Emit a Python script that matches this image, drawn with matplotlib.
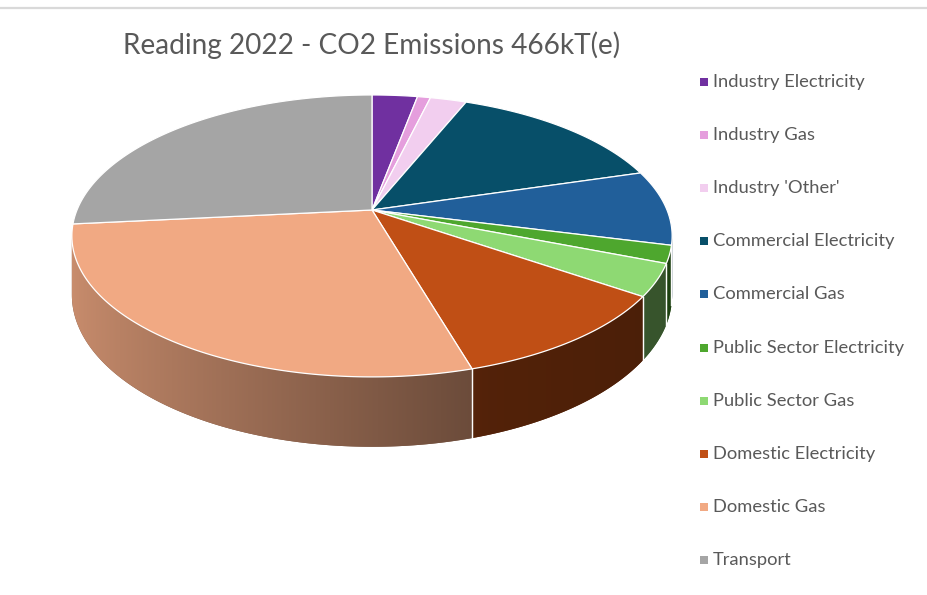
import numpy as np
import matplotlib
matplotlib.use('Agg')
from matplotlib import pyplot as plt
from matplotlib.patches import Polygon
from matplotlib.colors import to_rgb

# data (kT CO2e, Reading 2022)
labels = ['Industry Electricity', 'Industry Gas', "Industry 'Other'",
          'Commercial Electricity', 'Commercial Gas', 'Public Sector Electricity',
          'Public Sector Gas', 'Domestic Electricity', 'Domestic Gas', 'Transport']
values = [13.6, 3.9, 10.9, 66.6, 40.1, 9.3, 17.1, 50.6, 130.1, 124.0]
colors = ['#7030A0', '#E59EDD', '#F2CEEF', '#074F69', '#215F9A',
          '#4EA72E', '#8ED973', '#C04F15', '#F1A983', '#A5A5A5']
title = 'Reading 2022 - CO2 Emissions 466kT(e)'

plt.rcParams['font.family'] = ['Lato', 'DejaVu Sans']

fig = plt.figure(figsize=(9.28, 5.95), dpi=100)
ax = fig.add_axes([0, 0, 1, 1])
ax.set_xlim(0, 928)
ax.set_ylim(595, 0)
ax.axis('off')

# perspective pie geometry (pixels)
CX, CY = 372, 210
A, B, K = 295, 136.2, 0.184
H = 57   # thickness

def proj(theta, drop=0.0):
    t = np.radians(theta)
    u, v = np.sin(t), np.cos(t)
    w = 1 + K * v
    return CX + A * u / w, CY - B * v / w + drop / w

def shade(theta):
    u = np.sin(np.radians(theta))
    return np.interp(u, [-1, 0.33, 1], [0.84, 0.43, 0.38])

ang = np.concatenate([[0], np.cumsum(values) / np.sum(values) * 360])
vis0 = np.degrees(np.arccos(-K))      # silhouette angles
vis1 = 360 - vis0

# x -> angle on the front rim, for the wall gradient
t_all = np.linspace(vis0, vis1, 3000)
x_all = proj(t_all)[0]
gx = np.linspace(x_all.min() - 2, x_all.max() + 2, 700)
gshade = shade(np.interp(gx, x_all[::-1], t_all[::-1]))

# side walls
for i in range(len(values)):
    a0, a1 = max(ang[i], vis0), min(ang[i + 1], vis1)
    if a1 <= a0:
        continue
    base = np.array(to_rgb(colors[i]))
    tt = np.linspace(a0, a1, max(int((a1 - a0) * 3), 2))
    xt, yt = proj(tt)
    xb, yb = proj(tt, H)
    pts = list(zip(xt, yt)) + list(zip(xb[::-1], yb[::-1]))
    wall = Polygon(pts, closed=True, fc=base * 0.5, ec='none')
    ax.add_patch(wall)
    img = (gshade[:, None] * base[None, :])[None, :, :]
    im = ax.imshow(np.clip(img, 0, 1), extent=(gx[0], gx[-1], 400 + 100, 0),
                   aspect='auto', interpolation='bilinear', zorder=1.5)
    im.set_clip_path(wall)
    # white edges at slice boundaries on the wall
    for a in (ang[i], ang[i + 1]):
        if vis0 < a < vis1:
            x0, y0 = proj(a); x1, y1 = proj(a, H)
            ax.plot([x0, x1], [y0, y1], color='white', lw=0.9, alpha=0.9, zorder=2)

# top faces
for i in range(len(values)):
    tt = np.linspace(ang[i], ang[i + 1], max(int((ang[i + 1] - ang[i]) * 2), 2))
    xs, ys = proj(tt)
    pts = [(CX, CY)] + list(zip(xs, ys))
    ax.add_patch(Polygon(pts, closed=True, fc=colors[i], ec='white', lw=0.9, zorder=3))

ax.set_xlim(0, 928)
ax.set_ylim(595, 0)

# title
ax.text(372, 45, title, ha='center', va='center', fontsize=20.2, color='#595959')

# legend
for i, lab in enumerate(labels):
    y = 82 + 53.1 * i
    ax.scatter([704], [y], marker='s', s=30, color=colors[i], linewidths=0)
    ax.text(713, y, lab, ha='left', va='center', fontsize=13.2, color='#595959')

# chart frame top line
ax.plot([0, 928], [8, 8], color='#D9D9D9', lw=1.6)

fig.savefig('out.png', dpi=100)
